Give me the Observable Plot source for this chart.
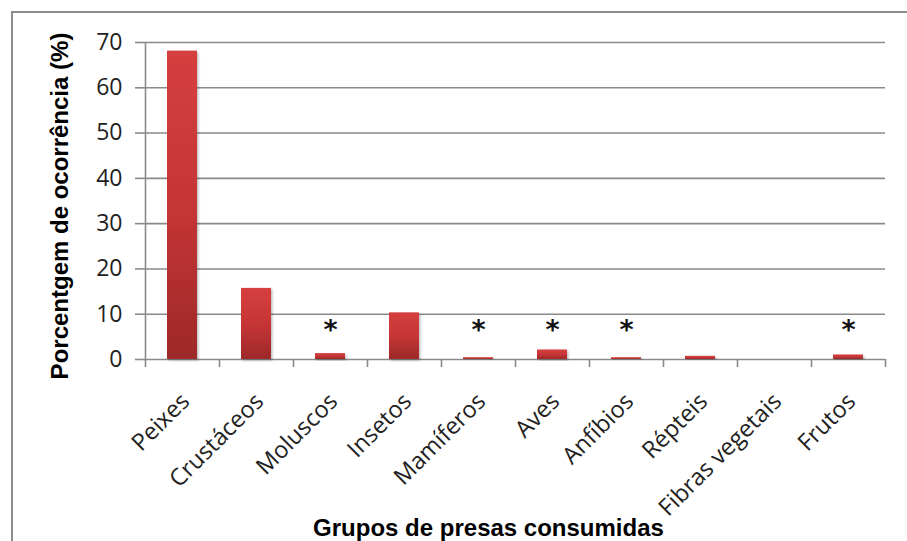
<!DOCTYPE html>
<html>
<head>
<meta charset="utf-8">
<script src="https://cdn.jsdelivr.net/npm/d3@7"></script>
<script src="https://cdn.jsdelivr.net/npm/@observablehq/plot@0.6"></script>
<style>
  html, body { margin: 0; padding: 0; background: #fff; }
  #wrap { position: relative; width: 907px; height: 541px; overflow: hidden; }
  #border { position: absolute; left: 11px; top: 11px; width: 1000px; height: 1000px; border-left: 2px solid #8c8c8c; border-top: 2px solid #8c8c8c; }
  #chart { position: absolute; left: 0; top: 0; }
</style>
</head>
<body>
<div id="wrap"><div id="border"></div><div id="chart"></div></div>
<script>
const categories = ["Peixes", "Crustáceos", "Moluscos", "Insetos", "Mamíferos", "Aves", "Anfíbios", "Répteis", "Fibras vegetais", "Frutos"];
const values = [68.1, 15.7, 1.3, 10.3, 0.4, 2.1, 0.4, 0.7, 0, 1.0];
const starred = ["Moluscos", "Mamíferos", "Aves", "Anfíbios", "Frutos"];
const yTicks = [0, 10, 20, 30, 40, 50, 60, 70];
const yTitle = "Porcentgem de ocorrência (%)";
const xTitle = "Grupos de presas consumidas";

const data = categories.map((c, i) => ({cat: c, value: values[i]}));

const W = 907, H = 541, ML = 145, MR = 22, MT = 42, MB = 182;
const step = (W - ML - MR) / categories.length;
const pxPerUnit = (H - MT - MB) / 70;
const tickLen = 8 / pxPerUnit;
const grid = "#8a8a8a";

function defs() {
  const ns = "http://www.w3.org/2000/svg";
  const d = document.createElementNS(ns, "defs");
  d.innerHTML = `
    <linearGradient id="barGrad" x1="0" y1="0" x2="0" y2="1">
      <stop offset="0" stop-color="#d63f3f"/>
      <stop offset="0.5" stop-color="#c63535"/>
      <stop offset="1" stop-color="#9e2929"/>
    </linearGradient>
    <filter id="shadow" x="-20%" y="-20%" width="140%" height="140%">
      <feDropShadow dx="1.5" dy="1.5" stdDeviation="1.2" flood-color="#000" flood-opacity="0.25"/>
    </filter>`;
  return d;
}

const chart = Plot.plot({
  width: W,
  height: H,
  marginLeft: ML,
  marginRight: MR,
  marginTop: MT,
  marginBottom: MB,
  style: {fontFamily: "'Open Sans', sans-serif", fontSize: "23px", color: "#222", background: "transparent", overflow: "visible"},
  x: {domain: categories, paddingInner: 0.6, paddingOuter: 0.3, label: null},
  y: {domain: [0, 70], label: null},
  marks: [
    defs,
    Plot.ruleY(yTicks, {y: d => d, stroke: grid, strokeWidth: 1.6}),
    Plot.ruleX([categories[0]], {x: d => d, dx: -step / 2, y1: 0, y2: 70, stroke: grid, strokeWidth: 1.6}),
    Plot.barY(data, {x: "cat", y: "value", fill: "url(#barGrad)", filter: d => d.value > 0}),
    Plot.ruleX(categories, {x: d => d, dx: -step / 2, y1: 0, y2: -tickLen, stroke: grid, strokeWidth: 1.6}),
    Plot.ruleX([categories[categories.length - 1]], {x: d => d, dx: step / 2, y1: 0, y2: -tickLen, stroke: grid, strokeWidth: 1.6}),
    Plot.axisY({ticks: yTicks, tickSize: 10, tickPadding: 13, stroke: grid, strokeWidth: 1.6, fill: "#222", fontSize: 23, label: null, labelArrow: "none"}),
    Plot.axisX({tickSize: 0, tickRotate: -45, tickPadding: 38, dx: 3, fill: "#222", fontSize: 23.5, label: null}),
    Plot.text(starred, {x: d => d, frameAnchor: "bottom", dy: -21, text: () => "*", fontSize: 27, fontWeight: "bold", fontFamily: "'DejaVu Sans', sans-serif", fill: "#111"}),
    Plot.text([yTitle], {frameAnchor: "left", dx: -85, dy: 5, rotate: -90, textAnchor: "middle", text: d => d, fontSize: 24, fontWeight: "bold", fontFamily: "'Liberation Sans', Arial, sans-serif", fill: "#000"}),
    Plot.text([xTitle], {frameAnchor: "bottom", dx: -27, dy: 176, text: d => d, fontSize: 24, fontWeight: "bold", fontFamily: "'Liberation Sans', Arial, sans-serif", fill: "#000"})
  ]
});

chart.querySelectorAll("rect").forEach(r => {
  const f = r.getAttribute("fill") || (r.parentNode && r.parentNode.getAttribute && r.parentNode.getAttribute("fill"));
  if (f === "url(#barGrad)") r.setAttribute("filter", "url(#shadow)");
});
document.getElementById("chart").appendChild(chart);
</script>
</body>
</html>
